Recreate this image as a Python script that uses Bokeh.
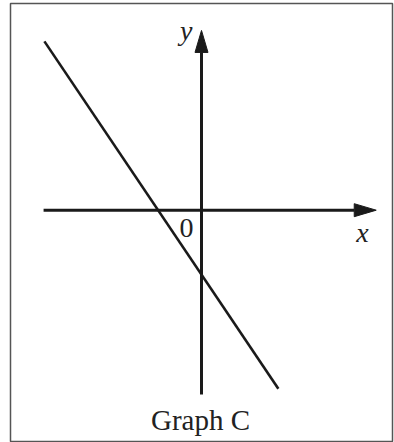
from bokeh.plotting import figure
from bokeh.models import Range1d
from bokeh.embed import file_html
from bokeh.resources import INLINE
from bokeh.core.properties import value

# ---- data (schematic units) ----
line_x = [-3.74, 1.83]
line_y = [4.02, -4.25]
xaxis_ends = [-3.76, 4.16]   # x-axis from left end to arrow tip
yaxis_ends = [-4.39, 4.28]   # y-axis from bottom end to arrow tip
labels = {"x": "x", "y": "y", "origin": "0", "title": "Graph C"}

# ---- layout ----
W, H = 394, 442
ML, MR, MT, MB = 10, 2, 3, 1
FW, FH = W - ML - MR, H - MT - MB
S = 42.0                      # pixels per unit
OX, OY = 191.0, 206.7         # origin position inside frame (px from left / top)
TSHIFT = 9                    # baseline correction (px, upward)

def px(v):
    return v / S

p = figure(width=W, height=H, output_backend="svg", toolbar_location=None,
           x_range=Range1d(-OX / S, (FW - OX) / S),
           y_range=Range1d(-(FH - OY) / S, OY / S),
           x_axis_location=None, y_axis_location=None,
           min_border_left=ML, min_border_right=MR,
           min_border_top=MT, min_border_bottom=MB)
p.grid.visible = False
p.background_fill_color = "white"
p.border_fill_color = "white"
p.outline_line_color = "#555555"
p.outline_line_width = 1.5

INK = "#1a1a1a"
HEAD_L, HEAD_W = 22, 6.5

# axes lines (stop at arrow base)
p.line([xaxis_ends[0], xaxis_ends[1] - px(HEAD_L)], [0, 0], line_color=INK, line_width=3)
p.line([0, 0], [yaxis_ends[0], yaxis_ends[1] - px(HEAD_L)], line_color=INK, line_width=3)

# arrow heads
xt = xaxis_ends[1]
p.patch([xt, xt - px(HEAD_L), xt - px(HEAD_L)], [0, px(HEAD_W), -px(HEAD_W)],
        fill_color=INK, line_color=INK, line_width=1)
yt = yaxis_ends[1]
p.patch([0, px(HEAD_W), -px(HEAD_W)], [yt, yt - px(HEAD_L), yt - px(HEAD_L)],
        fill_color=INK, line_color=INK, line_width=1)

# the graph line
p.line(line_x, line_y, line_color=INK, line_width=2.6)

FONT = value("Liberation Serif")
p.text(x=[-px(9)], y=[yt - px(9.5 - TSHIFT)], text=[labels["y"]], text_font=FONT,
       text_font_style="italic", text_font_size="28px", text_align="right",
       text_baseline="alphabetic", text_color="#222222")
p.text(x=[px(161)], y=[-px(31 - TSHIFT)], text=[labels["x"]], text_font=FONT,
       text_font_style="italic", text_font_size="28px", text_align="center",
       text_baseline="alphabetic", text_color="#222222")
p.text(x=[-px(15)], y=[-px(27 - TSHIFT)], text=[labels["origin"]], text_font=FONT,
       text_font_size="28px", text_align="center",
       text_baseline="alphabetic", text_color="#222222")
p.text(x=[-px(1)], y=[-px(219 - TSHIFT)], text=[labels["title"]], text_font=FONT,
       text_font_size="29px", text_align="center",
       text_baseline="alphabetic", text_color="#222222")

open("out.html", "w").write(file_html(p, INLINE))
